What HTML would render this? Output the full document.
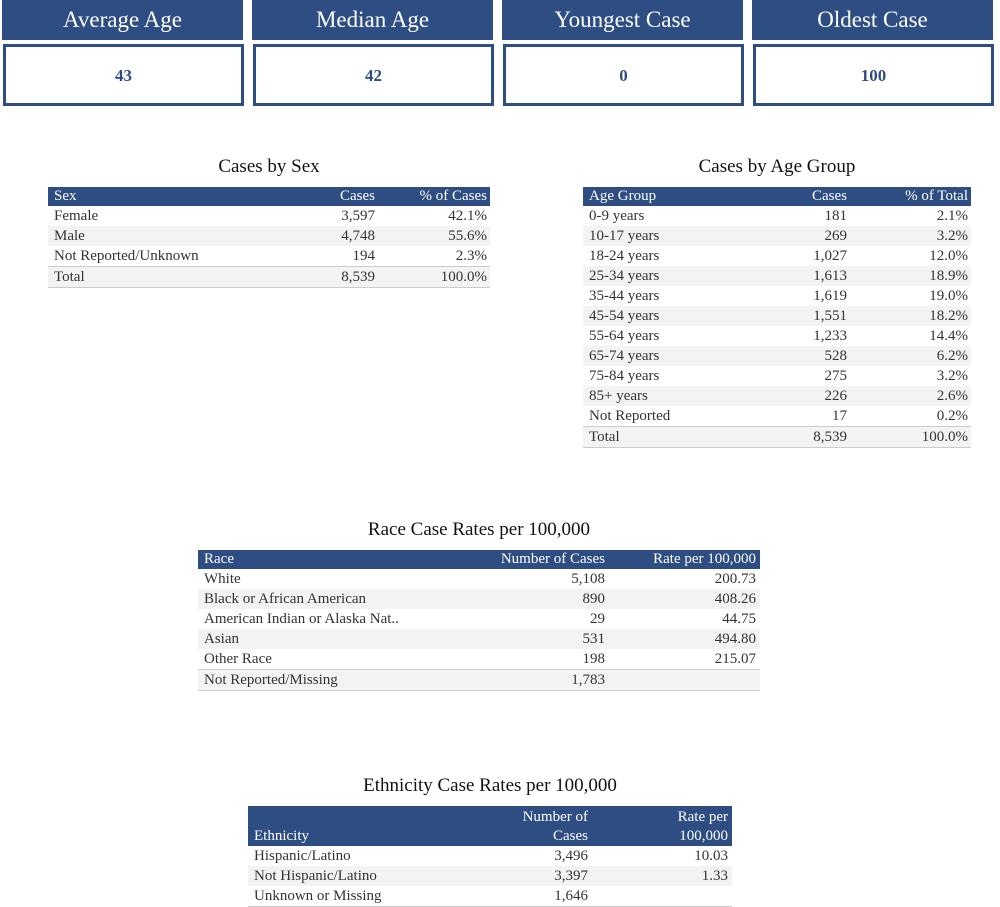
<!DOCTYPE html>
<html><head><meta charset="utf-8"><style>
body{margin:0;width:1000px;height:907px;background:#fff;font-family:"Liberation Serif",serif;color:#333;position:relative;overflow:hidden}
.kh{position:absolute;top:0;height:40px;width:241px;background:#2e4d82;color:#fff;font-size:23px;text-align:center;line-height:40px}
.kb{position:absolute;top:44px;height:56px;width:235px;border:3px solid #2e4d82;color:#2e4d82;font-weight:bold;font-size:17px;text-align:center;line-height:58px}
.t{position:absolute;font-size:19px;color:#111;text-align:center}
table{position:absolute;border-collapse:collapse;table-layout:fixed;font-size:15px}
td,th{padding:0 0 0 6px;height:20px;line-height:20px;white-space:nowrap;overflow:hidden}
th{background:#2e4d82;color:#fff;font-weight:normal;text-align:left;height:19px;line-height:19px}
.r{text-align:right;padding:0}
.p{padding-right:3px}
tr:nth-child(odd) td{background:#f3f3f3}
tr.tot td{border-top:1px solid #ccc;border-bottom:1px solid #ccc}
</style></head><body>
<div class="kh" style="left:2px">Average Age</div>
<div class="kh" style="left:252px">Median Age</div>
<div class="kh" style="left:502px">Youngest Case</div>
<div class="kh" style="left:752px">Oldest Case</div>
<div class="kb" style="left:3px">43</div>
<div class="kb" style="left:253px">42</div>
<div class="kb" style="left:503px">0</div>
<div class="kb" style="left:753px">100</div>

<div class="t" style="left:48px;width:442px;top:156px">Cases by Sex</div>
<table style="left:48px;top:187px;width:442px">
<colgroup><col style="width:247px"><col style="width:80px"><col style="width:115px"></colgroup>
<tr><th>Sex</th><th class="r">Cases</th><th class="r p">% of Cases</th></tr>
<tr><td>Female</td><td class="r">3,597</td><td class="r p">42.1%</td></tr>
<tr><td>Male</td><td class="r">4,748</td><td class="r p">55.6%</td></tr>
<tr><td>Not Reported/Unknown</td><td class="r">194</td><td class="r p">2.3%</td></tr>
<tr class="tot"><td>Total</td><td class="r">8,539</td><td class="r p">100.0%</td></tr>
</table>

<div class="t" style="left:583px;width:388px;top:156px">Cases by Age Group</div>
<table style="left:583px;top:187px;width:388px">
<colgroup><col style="width:187px"><col style="width:77px"><col style="width:124px"></colgroup>
<tr><th>Age Group</th><th class="r">Cases</th><th class="r p">% of Total</th></tr>
<tr><td>0-9 years</td><td class="r">181</td><td class="r p">2.1%</td></tr>
<tr><td>10-17 years</td><td class="r">269</td><td class="r p">3.2%</td></tr>
<tr><td>18-24 years</td><td class="r">1,027</td><td class="r p">12.0%</td></tr>
<tr><td>25-34 years</td><td class="r">1,613</td><td class="r p">18.9%</td></tr>
<tr><td>35-44 years</td><td class="r">1,619</td><td class="r p">19.0%</td></tr>
<tr><td>45-54 years</td><td class="r">1,551</td><td class="r p">18.2%</td></tr>
<tr><td>55-64 years</td><td class="r">1,233</td><td class="r p">14.4%</td></tr>
<tr><td>65-74 years</td><td class="r">528</td><td class="r p">6.2%</td></tr>
<tr><td>75-84 years</td><td class="r">275</td><td class="r p">3.2%</td></tr>
<tr><td>85+ years</td><td class="r">226</td><td class="r p">2.6%</td></tr>
<tr><td>Not Reported</td><td class="r">17</td><td class="r p">0.2%</td></tr>
<tr class="tot"><td>Total</td><td class="r">8,539</td><td class="r p">100.0%</td></tr>
</table>

<div class="t" style="left:198px;width:562px;top:519px">Race Case Rates per 100,000</div>
<table style="left:198px;top:550px;width:562px">
<colgroup><col style="width:282px"><col style="width:125px"><col style="width:155px"></colgroup>
<tr><th>Race</th><th class="r">Number of Cases</th><th class="r" style="padding-right:4px">Rate per 100,000</th></tr>
<tr><td>White</td><td class="r">5,108</td><td class="r" style="padding-right:4px">200.73</td></tr>
<tr><td>Black or African American</td><td class="r">890</td><td class="r" style="padding-right:4px">408.26</td></tr>
<tr><td>American Indian or Alaska Nat..</td><td class="r">29</td><td class="r" style="padding-right:4px">44.75</td></tr>
<tr><td>Asian</td><td class="r">531</td><td class="r" style="padding-right:4px">494.80</td></tr>
<tr><td>Other Race</td><td class="r">198</td><td class="r" style="padding-right:4px">215.07</td></tr>
<tr class="tot"><td>Not Reported/Missing</td><td class="r">1,783</td><td class="r"></td></tr>
</table>

<div class="t" style="left:248px;width:484px;top:775px">Ethnicity Case Rates per 100,000</div>
<table style="left:248px;top:806px;width:484px">
<colgroup><col style="width:252px"><col style="width:88px"><col style="width:144px"></colgroup>
<tr><th style="height:40px;vertical-align:bottom">Ethnicity</th><th class="r" style="height:40px;white-space:normal;vertical-align:bottom">Number of Cases</th><th class="r" style="height:40px;white-space:normal;vertical-align:bottom;padding-right:4px;padding-left:80px">Rate per 100,000</th></tr>
<tr><td>Hispanic/Latino</td><td class="r">3,496</td><td class="r" style="padding-right:4px">10.03</td></tr>
<tr><td>Not Hispanic/Latino</td><td class="r">3,397</td><td class="r" style="padding-right:4px">1.33</td></tr>
<tr><td style="background:#fff;border-bottom:1px solid #ccc">Unknown or Missing</td><td class="r" style="background:#fff;border-bottom:1px solid #ccc">1,646</td><td class="r" style="background:#fff;border-bottom:1px solid #ccc"></td></tr>
</table>
</body></html>
